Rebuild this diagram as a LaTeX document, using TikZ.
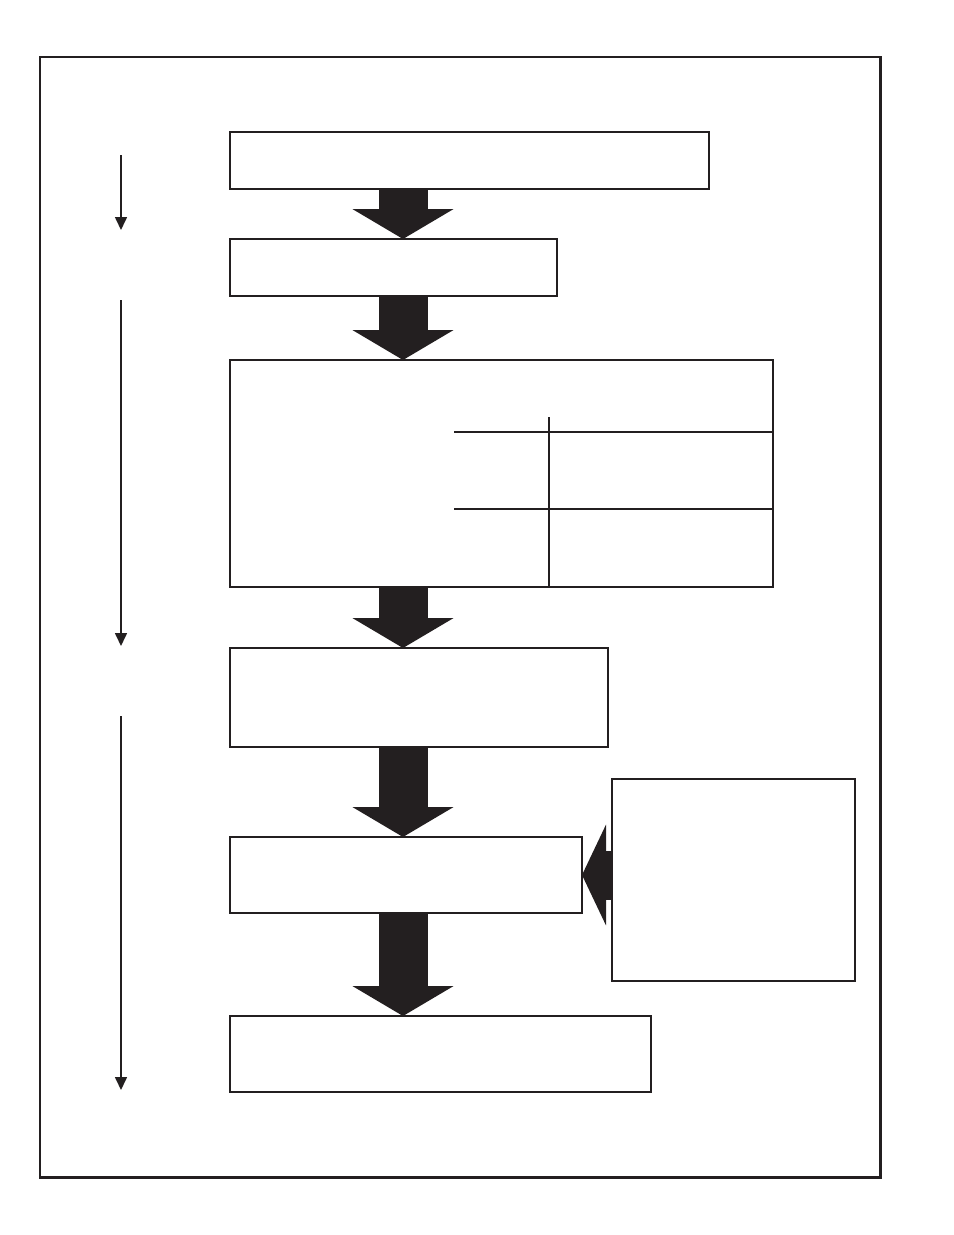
\documentclass[tikz,border=0pt]{standalone}
\usetikzlibrary{positioning, arrows.meta, calc}
\definecolor{ink}{HTML}{231F20}

\begin{document}
\begin{tikzpicture}[
  stage/.style={draw=ink, line width=1.1pt, inner sep=0pt, outer sep=0pt},
  aside/.style={draw=ink, line width=0.85pt, inner sep=0pt, outer sep=0pt},
  bigarr/.style={draw=ink, line width=0.98cm, -{Triangle[length=0.6cm, width=2cm]}, color=ink},
  sidearr/.style={draw=ink, line width=0.98cm, -{Triangle[length=0.48cm, width=2cm]}, color=ink},
  timearr/.style={draw=ink, line width=0.9pt, -{Triangle[length=0.26cm, width=0.24cm]}},
  rule/.style={draw=ink, line width=0.8pt},
]
\useasboundingbox (0,0) rectangle (19.08,-24.7);

% Frame
\draw[ink, line width=1.7pt] (0.8,-1.14) rectangle (17.6,-23.54);

% Stages
\node[stage, minimum width=9.58cm, minimum height=1.14cm, anchor=north west] (b1) at (4.6,-2.64) {};
\node[stage, minimum width=6.54cm, minimum height=1.14cm, below=1.0cm of b1.south west, anchor=north west] (b2) {};
\node[stage, minimum width=10.86cm, minimum height=4.54cm, below=1.28cm of b2.south west, anchor=north west] (b3) {};
\node[stage, minimum width=7.56cm, minimum height=1.98cm, below=1.22cm of b3.south west, anchor=north west] (b4) {};
\node[stage, minimum width=7.04cm, minimum height=1.52cm, below=1.8cm of b4.south west, anchor=north west] (b5) {};
\node[stage, minimum width=8.42cm, minimum height=1.52cm, below=2.06cm of b5.south west, anchor=north west] (b6) {};

% Side input
\node[aside, minimum width=4.86cm, minimum height=4.04cm, right=0.6cm of b5.east, anchor=west, yshift=-0.1cm] (side) {};

% Table lines in b3
\draw[rule] ($(b3.north west)+(6.38,-1.14)$) -- ($(b3.south west)+(6.38,0)$);
\draw[rule] ($(b3.north west)+(4.48,-1.44)$) -- ($(b3.north east)+(0,-1.44)$);
\draw[rule, line width=1.2pt] ($(b3.north west)+(4.48,-2.98)$) -- ($(b3.north east)+(0,-2.98)$);

% Flow arrows
\coordinate (spine) at (8.06,0);
\draw[bigarr] (b1.south -| spine) -- (b2.north -| spine);
\draw[bigarr] (b2.south -| spine) -- (b3.north -| spine);
\draw[bigarr] (b3.south -| spine) -- (b4.north -| spine);
\draw[bigarr] (b4.south -| spine) -- (b5.north -| spine);
\draw[bigarr] (b5.south -| spine) -- (b6.north -| spine);
\draw[sidearr] (b5.east -| side.west) -- (b5.east);

% Time arrows
\coordinate (t1s) at (2.42,-3.1);
\coordinate (t1e) at (2.42,-4.6);
\coordinate (t2s) at (2.42,-6.0);
\coordinate (t2e) at (2.42,-12.92);
\coordinate (t3s) at (2.42,-14.32);
\coordinate (t3e) at (2.42,-21.8);
\draw[timearr] (t1s) -- (t1e);
\draw[timearr] (t2s) -- (t2e);
\draw[timearr] (t3s) -- (t3e);

\end{tikzpicture}
\end{document}
